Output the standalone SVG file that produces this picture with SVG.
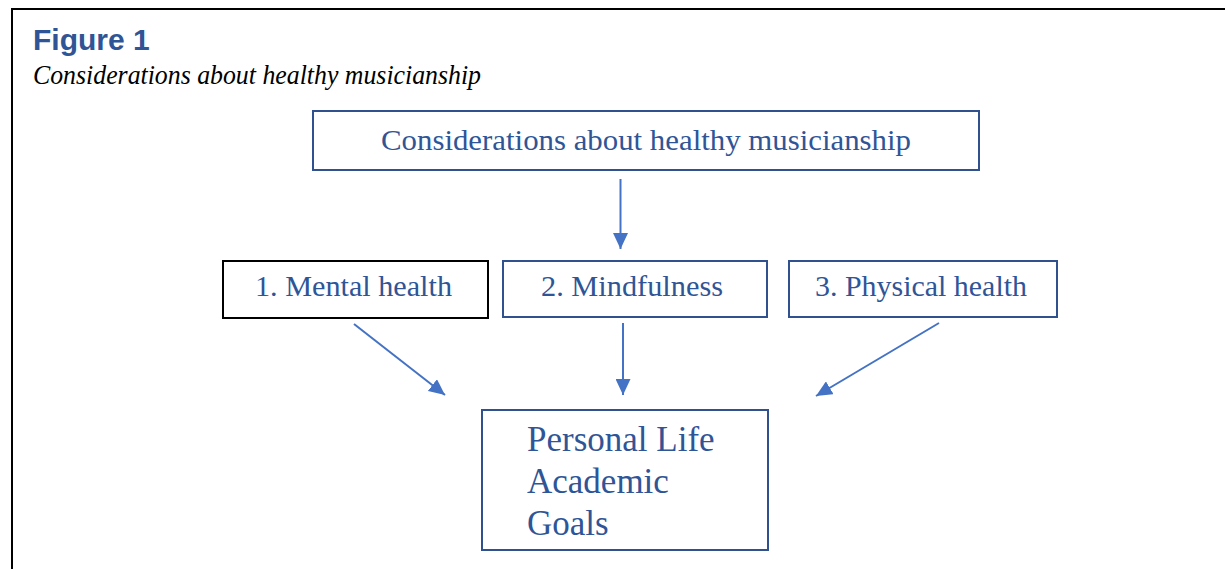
<svg xmlns="http://www.w3.org/2000/svg" width="1225" height="569" viewBox="0 0 1225 569">
  <style>
    .frame { fill: none; stroke: #000; stroke-width: 2; }
    .box { fill: #fff; stroke: #2F528F; stroke-width: 2; }
    .box-dark { fill: #fff; stroke: #000; stroke-width: 2; }
    .label { font-family: "Liberation Serif", "Times New Roman", serif; fill: #2F5597; }
    .conn { stroke: #4472C4; stroke-width: 2; fill: none; }
    .title { font-family: "Liberation Sans", Arial, sans-serif; font-weight: bold; font-size: 30px; fill: #2F5597; }
    .subtitle { font-family: "Liberation Serif", "Times New Roman", serif; font-style: italic; font-size: 27px; fill: #000; }
  </style>
  <defs>
    <marker id="head" viewBox="0 0 16 15" refX="16" refY="7.5" markerWidth="16" markerHeight="15" markerUnits="userSpaceOnUse" orient="auto">
      <path d="M0,0 L16,7.5 L0,15 Z" fill="#4472C4"/>
    </marker>
  </defs>

  <rect width="1225" height="569" fill="#fff"/>

  <!-- page frame: top and left rules -->
  <path class="frame" d="M12,569 L12,9 L1225,9"/>

  <!-- heading -->
  <text class="title" x="33" y="50">Figure 1</text>
  <text class="subtitle" x="33" y="84" textLength="448" lengthAdjust="spacingAndGlyphs">Considerations about healthy musicianship</text>

  <!-- connectors -->
  <g id="connectors">
    <line class="conn" x1="620.5" y1="179" x2="620.5" y2="249" marker-end="url(#head)"/>
    <line class="conn" x1="354" y1="324" x2="445" y2="395" marker-end="url(#head)"/>
    <line class="conn" x1="623" y1="323" x2="623" y2="395" marker-end="url(#head)"/>
    <line class="conn" x1="939" y1="323" x2="816" y2="396" marker-end="url(#head)"/>
  </g>

  <g id="node-top">
    <rect class="box" x="313" y="111" width="666" height="59"/>
    <text class="label" x="646" y="150" font-size="29" text-anchor="middle" textLength="530" lengthAdjust="spacingAndGlyphs">Considerations about healthy musicianship</text>
  </g>

  <g id="node-mental">
    <rect class="box-dark" x="223" y="261" width="265" height="57"/>
    <text class="label" x="353.5" y="296" font-size="29" text-anchor="middle" textLength="197" lengthAdjust="spacingAndGlyphs">1. Mental health</text>
  </g>

  <g id="node-mindfulness">
    <rect class="box" x="503" y="261" width="264" height="56"/>
    <text class="label" x="632" y="296" font-size="29" text-anchor="middle" textLength="182" lengthAdjust="spacingAndGlyphs">2. Mindfulness</text>
  </g>

  <g id="node-physical">
    <rect class="box" x="789" y="261" width="268" height="56"/>
    <text class="label" x="921" y="296" font-size="29" text-anchor="middle" textLength="212" lengthAdjust="spacingAndGlyphs">3. Physical health</text>
  </g>

  <g id="node-outcomes">
    <rect class="box" x="482" y="410" width="286" height="140"/>
    <text class="label" font-size="35">
      <tspan x="527" y="451">Personal Life</tspan>
      <tspan x="527" y="493">Academic</tspan>
      <tspan x="527" y="535">Goals</tspan>
    </text>
  </g>
</svg>
